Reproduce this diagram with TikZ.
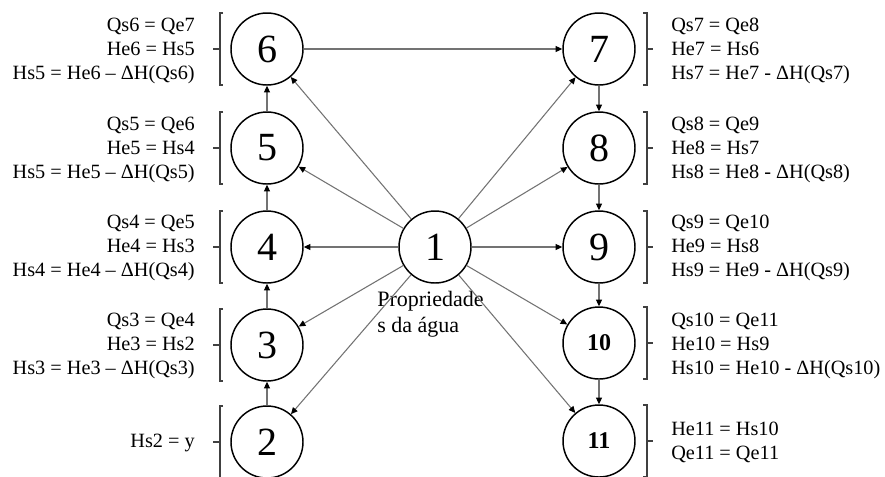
\documentclass[tikz,border=0pt]{standalone}
\usepackage{fontspec}
\setmainfont{Liberation Serif}
\usetikzlibrary{arrows.meta}
\begin{document}
\begin{tikzpicture}[x=0.75pt,y=-0.75pt,
  state/.style={circle,draw=black,line width=1.1pt,minimum size=54pt,inner sep=0pt,
    font=\fontsize{30}{30}\selectfont},
  smallstate/.style={state,font=\fontsize{18}{18}\selectfont\bfseries},
  eqs/.style={font=\fontsize{15.2}{18}\selectfont,inner sep=0pt},
  leq/.style={eqs,anchor=east,align=right},
  req/.style={eqs,anchor=west,align=left},
  flow/.style={draw=black!55,line width=0.8pt,
    -{Triangle[length=5pt,width=4.5pt,color=black]}},
  bracket/.style={draw=black!75,line width=0.8pt}]
\clip (0,0) rectangle (885,476);

% central node: water properties
\node[state] (n1) at (435,247) {1};
\node[anchor=north west,inner sep=0pt,align=left,
  font=\fontsize{16.5}{19.5}\selectfont] (prop) at (377,291) {Propriedade\\s da água};

% left column (upward chain)
\node[state] (n2) at (267,442) {2};
\node[state] (n3) at (267,345) {3};
\node[state] (n4) at (267,247) {4};
\node[state] (n5) at (267,148) {5};
\node[state] (n6) at (267,49) {6};

% right column (downward chain)
\node[state] (n7) at (599,49) {7};
\node[state] (n8) at (599,148) {8};
\node[state] (n9) at (599,247) {9};
\node[smallstate] (n10) at (599,343) {10};
\node[smallstate] (n11) at (599,441) {11};

% equations, left side
\node[leq] (e6) at (195,51) {Qs6 = Qe7\\He6 = Hs5\\Hs5 = He6 – ΔH(Qs6)};
\node[leq] (e5) at (195,150) {Qs5 = Qe6\\He5 = Hs4\\Hs5 = He5 – ΔH(Qs5)};
\node[leq] (e4) at (195,248) {Qs4 = Qe5\\He4 = Hs3\\Hs4 = He4 – ΔH(Qs4)};
\node[leq] (e3) at (195,346) {Qs3 = Qe4\\He3 = Hs2\\Hs3 = He3 – ΔH(Qs3)};
\node[leq] (e2) at (195,443) {Hs2 = y};

% equations, right side
\node[req] (e7) at (671,51) {Qs7 = Qe8\\He7 = Hs6\\Hs7 = He7 - ΔH(Qs7)};
\node[req] (e8) at (671,150) {Qs8 = Qe9\\He8 = Hs7\\Hs8 = He8 - ΔH(Qs8)};
\node[req] (e9) at (671,248) {Qs9 = Qe10\\He9 = Hs8\\Hs9 = He9 - ΔH(Qs9)};
\node[req] (e10) at (671,346) {Qs10 = Qe11\\He10 = Hs9\\Hs10 = He10 - ΔH(Qs10)};
\node[req] (e11) at (671,442) {He11 = Hs10\\Qe11 = Qe11};

% brackets grouping each node with its equations
\foreach \yy in {49,148,247,345,442}{
  \draw[bracket] (223,\yy-36) -- (220,\yy-36) -- (220,\yy+36) -- (223,\yy+36);
  \draw[bracket] (220,\yy) -- (213,\yy);
}
\foreach \yy in {49,148,247,343,441}{
  \draw[bracket] (643,\yy-36) -- (647,\yy-36) -- (647,\yy+36) -- (643,\yy+36);
  \draw[bracket] (647,\yy) -- (653,\yy);
}

% chains
\draw[flow] (n2) -- (n3);
\draw[flow] (n3) -- (n4);
\draw[flow] (n4) -- (n5);
\draw[flow] (n5) -- (n6);
\draw[flow] (n6) -- (n7);
\draw[flow] (n7) -- (n8);
\draw[flow] (n8) -- (n9);
\draw[flow] (n9) -- (n10);
\draw[flow] (n10) -- (n11);

% properties feed every stage
\foreach \t in {n2,n3,n4,n5,n6,n7,n8,n9,n10,n11}
  \draw[flow] (n1) -- (\t);
\end{tikzpicture}
\end{document}
